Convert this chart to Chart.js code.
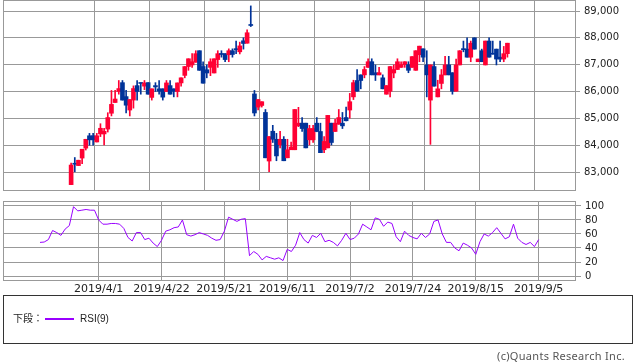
<!DOCTYPE html>
<html>
<head>
<meta charset="utf-8">
<script src="https://cdn.jsdelivr.net/npm/chart.js@4.4.1/dist/chart.umd.min.js"></script>
<style>
  body { margin: 0; background: #fff; width: 638px; height: 362px; position: relative; overflow: hidden; }
  #price { position: absolute; left: 0; top: 0; }
  #rsi { position: absolute; left: 0; top: 196px; }
  .legend { position: absolute; left: 3px; top: 295px; width: 628px; height: 47px; border: 1px solid #333;
            font-family: "Liberation Sans", "Noto Sans CJK JP", sans-serif; font-size: 10px; color: #222; }
  .legend span { position: absolute; top: 17px; line-height: 12px; }
  .legend .swatch { position: absolute; left: 41px; top: 22px; width: 29px; height: 2px; background: #9900ff; }
  .credit { position: absolute; right: 13px; top: 348px; font-family: "Noto Sans", sans-serif; font-size: 11px;
            letter-spacing: 0.3px; color: #555; }
</style>
</head>
<body>
<canvas id="price" width="638" height="192"></canvas>
<canvas id="rsi" width="638" height="100"></canvas>
<div class="legend">
  <span style="left:9px">下段：</span>
  <div class="swatch"></div>
  <span style="left:76px">RSI(9)</span>
</div>
<div class="credit">(c)Quants Research Inc.</div>

<script>
// x axis is the trading-day index, first candle = 0
const tickIdx = [14, 29, 44, 59, 74, 89, 104, 119];
const tickLabels = ["2019/4/1", "2019/4/22", "2019/5/21", "2019/6/11", "2019/7/2", "2019/7/24", "2019/8/15", "2019/9/5"];
const priceTicks = [83000, 84000, 85000, 86000, 87000, 88000, 89000];
const rsiTicks = [0, 20, 40, 60, 80, 100];

const opens = [
  82530,83320,83240,83520,83890,84350,84350,84120,84420,84420,
  84600,85190,85590,86000,86330,85810,85310,85680,86220,86320,
  86200,86330,85780,86220,86100,86100,86000,86220,86100,86000,
  86320,86600,86930,86990,87090,87520,86930,86810,86900,86690,
  87190,87410,87410,87370,87520,87580,87480,87890,87800,88480,
  85910,85420,85480,85220,83410,84520,84220,84020,84220,83530,
  83830,83830,84720,84820,84820,84200,84200,84820,84510,83830,
  83900,84820,84510,84780,84820,85030,85310,85800,86410,86620,
  86620,86900,87110,86700,86620,86510,85900,86010,86690,86820,
  86900,87000,87000,86900,86790,87370,87590,86990,85680,86930,
  85800,86300,86620,86990,86700,86010,86990,87580,87580,87280,
  88000,87110,87520,86990,87880,87410,87580,87280,87210,87410
];
const highs = [
  83330,83540,83440,83850,84220,84440,84440,84440,84800,84630,
  85210,86040,86040,86410,86410,86040,85700,86210,86410,86320,
  86410,86330,86100,86330,86410,86100,86410,86410,86100,86320,
  86510,86930,87220,87410,87520,87520,87110,86990,87220,87220,
  87520,87520,87410,87590,87590,87880,87840,88000,88300,89190,
  86040,85700,85620,85330,84320,84740,84440,84520,84320,84220,
  84120,85330,85410,85030,84820,84740,84740,85030,84820,84320,
  85110,84820,84960,85330,85220,85420,85930,86420,86820,86620,
  86930,87220,87220,86990,86900,86620,86220,86930,86990,87220,
  87110,87110,87110,87300,87520,87690,87590,87520,86990,87110,
  86420,86820,87310,87310,86700,87210,87520,87880,88000,87880,
  88000,87210,87580,87880,88000,87880,87580,87880,87680,87800
];
const lows = [
  82530,83010,83240,83310,83820,84000,84000,84120,84320,84010,
  84490,85090,85590,85900,85680,85200,85090,85380,85680,85900,
  86070,85900,85680,86000,85900,85680,86000,85900,85800,85800,
  86200,86510,86790,86900,87090,86790,86310,86510,86590,86690,
  86900,87280,87110,87110,87280,87410,87400,87580,87800,88420,
  85090,85310,85420,83530,83010,84100,83420,83900,83420,83530,
  83830,83830,84690,84510,83900,84010,84100,84500,83720,83720,
  83900,84010,84510,84780,84620,84900,85010,85700,86010,86100,
  86510,86900,86620,86410,86620,86100,85900,85800,86510,86820,
  86900,86900,86700,86900,86790,87110,87110,85800,84030,86200,
  85800,86100,86620,86620,85900,86010,86990,87480,87280,87110,
  87580,87110,87110,86990,87280,87390,86990,87110,87110,87280
];
const closes = [
  83260,83290,83440,83850,84220,84200,84200,84350,84630,84520,
  85030,85520,85720,86110,85680,85490,85700,86110,86000,86300,
  86320,85900,86100,86170,86010,85790,86320,85900,86010,86320,
  86510,86930,87220,87110,87410,86790,86310,86690,87110,87220,
  87410,87380,87190,87520,87380,87560,87700,87790,88190,88460,
  85200,85700,85620,83530,84320,84220,83600,84220,83420,83830,
  83930,85330,84820,84620,83900,84620,84620,84510,83720,84140,
  85110,84100,84820,85030,84720,84910,85620,86330,86010,86410,
  86820,87110,86620,86620,86700,86100,86220,86930,86820,87110,
  87000,87110,86790,87300,87520,87690,87280,86620,86990,86200,
  86100,86620,86990,86620,86010,86990,87520,87560,87280,87800,
  87580,87210,87110,87880,87280,87390,87210,87210,87410,87800
];
const rsi9 = [
  48,48.5,52,65,62,58,67,72,99,93,
  94,95,94,94,80,74,74,75,75,74,
  68,55,50,62,62,52,54,47,42,51,
  64,66,69,70,80,59,57,59,62,60,
  58,54,51,52,64,84,81,78,81,82,
  29,35,31,23,28,26,24,26,22,38,
  35,44,62,52,47,58,55,61,49,51,
  48,43,51,61,52,54,60,74,70,66,
  83,81,71,77,75,56,49,64,58,55,
  53,61,55,60,78,80,60,48,48,40,
  36,47,44,40,31,49,60,57,62,69,
  61,53,56,74,54,48,45,48,42,52
];

const UP = "#ff0033";
const DOWN = "#003399";
const GRID = "#999999";
const candleColors = closes.map((c, i) => (c >= opens[i] ? UP : DOWN));

Chart.defaults.font.family = "'DejaVu Sans', sans-serif";
Chart.defaults.font.size = 10;
Chart.defaults.color = "#222";

// box around the plot area
const framePlugin = {
  id: "frame",
  beforeDatasetsDraw(chart) {
    const { ctx, chartArea: a } = chart;
    ctx.save();
    ctx.strokeStyle = GRID;
    ctx.lineWidth = 1;
    ctx.strokeRect(Math.floor(a.left) + 0.5, Math.floor(a.top) + 0.5,
                   Math.round(a.right - a.left), Math.round(a.bottom - a.top));
    ctx.restore();
  }
};

const noPad = (scale) => {
  scale.paddingTop = 0; scale.paddingBottom = 0;
  scale.paddingLeft = 0; scale.paddingRight = 0;
};

function xAxis(showLabels, height) {
  return {
    type: "linear",
    min: -8.83,
    max: 127.68,
    afterBuildTicks: (s) => { s.ticks = tickIdx.map((v) => ({ value: v })); },
    afterFit: (s) => { s.height = height; noPad(s); },
    ticks: {
      display: showLabels,
      autoSkip: false,
      maxRotation: 0,
      padding: 3,
      font: { size: 11 },
      callback: (v) => tickLabels[tickIdx.indexOf(v)]
    },
    grid: { color: GRID, drawTicks: false },
    border: { display: false }
  };
}

new Chart(document.getElementById("price"), {
  type: "bar",
  data: {
    datasets: [
      {
        label: "wick",
        data: lows.map((l, i) => ({ x: i, y: [l, highs[i]] })),
        backgroundColor: candleColors,
        barThickness: 1,
        grouped: false,
        order: 2
      },
      {
        label: "body",
        data: opens.map((o, i) => ({ x: i, y: [o, closes[i]] })),
        backgroundColor: candleColors,
        barThickness: 4,
        minBarLength: 1,
        grouped: false,
        order: 1
      }
    ]
  },
  options: {
    responsive: false,
    animation: false,
    devicePixelRatio: 1,
    layout: { padding: { left: 3, top: 0, right: 0, bottom: 0 } },
    plugins: { legend: { display: false }, tooltip: { enabled: false } },
    scales: {
      x: xAxis(false, 2),
      y: {
        position: "right",
        min: 82330,
        max: 89410,
        afterBuildTicks: (s) => { s.ticks = priceTicks.map((v) => ({ value: v })); },
        afterFit: (s) => { s.width = 63; noPad(s); },
        ticks: { padding: 4, callback: (v) => v.toLocaleString("en-US") },
        grid: { color: GRID, tickLength: 5 },
        border: { display: false }
      }
    }
  },
  plugins: [framePlugin]
});

new Chart(document.getElementById("rsi"), {
  type: "line",
  data: {
    datasets: [{
      label: "RSI(9)",
      data: rsi9.map((v, i) => ({ x: i, y: v })),
      borderColor: "#9900ff",
      borderWidth: 1,
      pointRadius: 0,
      tension: 0
    }]
  },
  options: {
    responsive: false,
    animation: false,
    devicePixelRatio: 1,
    layout: { padding: { left: 3, top: 5, right: 0, bottom: 0 } },
    plugins: { legend: { display: false }, tooltip: { enabled: false } },
    scales: {
      x: xAxis(true, 16),
      y: {
        position: "right",
        min: -5.7,
        max: 107.1,
        afterBuildTicks: (s) => { s.ticks = rsiTicks.map((v) => ({ value: v })); },
        afterFit: (s) => { s.width = 63; noPad(s); },
        ticks: { padding: 4 },
        grid: { color: GRID, tickLength: 6 },
        border: { display: false }
      }
    }
  },
  plugins: [framePlugin]
});
</script>
</body>
</html>
